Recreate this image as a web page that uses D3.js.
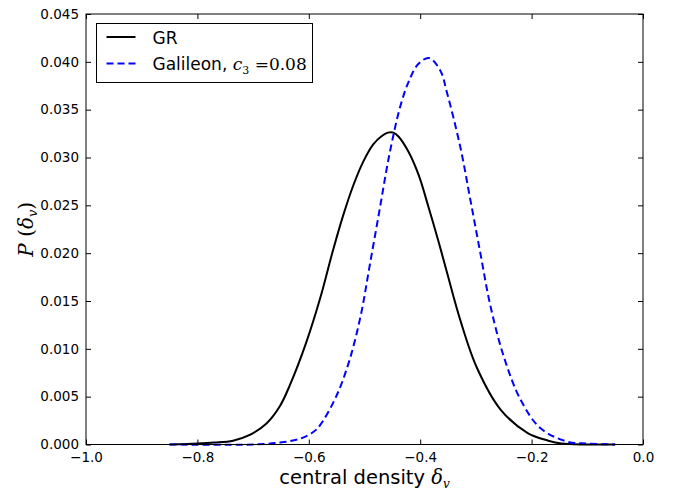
<!DOCTYPE html>
<html>
<head>
<meta charset="utf-8">
<script src="https://cdn.jsdelivr.net/npm/d3@7"></script>
<style>
  body { margin: 0; background: #fff; }
  svg { display: block; }
  .tick text { font-family: "DejaVu Sans", sans-serif; font-size: 13.5px; fill: #000; }
  .math { font-family: "DejaVu Serif", "Liberation Serif", serif; }
</style>
</head>
<body>
<div id="chart"></div>
<script>
// GR curve
var grX = [-0.85, -0.80, -0.77, -0.736, -0.706, -0.676, -0.652, -0.634, -0.605, -0.58, -0.557, -0.538, -0.52, -0.502,
           -0.484, -0.47, -0.458, -0.448, -0.439, -0.421, -0.403, -0.385, -0.367, -0.352, -0.328, -0.298, -0.255,
           -0.207, -0.17, -0.147, -0.10, -0.05];
var grY = [0.0000, 0.0001, 0.0002, 0.0004, 0.0010, 0.0022, 0.0040, 0.0062, 0.0106, 0.0152, 0.0202, 0.0240, 0.0271, 0.0296,
           0.0314, 0.0322, 0.0326, 0.0326, 0.0322, 0.0306, 0.0282, 0.0248, 0.0212, 0.0180, 0.0130, 0.0080, 0.0036,
           0.0012, 0.0004, 0.0001, 0.0000, 0.0000];

// Galileon c3 = 0.08
var galX = [-0.85, -0.70, -0.652, -0.616, -0.592, -0.58, -0.551, -0.527, -0.506, -0.491, -0.473, -0.455, -0.435, -0.418,
            -0.403, -0.384, -0.364, -0.352, -0.328, -0.31, -0.292, -0.274, -0.25, -0.22, -0.184, -0.136, -0.10, -0.05];
var galY = [0.0000, 0.0000, 0.0002, 0.0006, 0.0013, 0.0020, 0.0050, 0.0088, 0.0137, 0.0186, 0.0245, 0.0304, 0.0355, 0.0383,
            0.0398, 0.0404, 0.0391, 0.0368, 0.0311, 0.0256, 0.0200, 0.0145, 0.0092, 0.0047, 0.0017, 0.0003, 0.0001, 0.0000];

var xTicks = [-1.0, -0.8, -0.6, -0.4, -0.2, 0.0];
var yTicks = [0, 0.005, 0.010, 0.015, 0.020, 0.025, 0.030, 0.035, 0.040, 0.045];

var margin = {left: 86, right: 30, top: 14, bottom: 45.5};
var W = 673, H = 490;
var width = W - margin.left - margin.right;
var height = H - margin.top - margin.bottom;

var svg = d3.select("#chart").append("svg").attr("width", W).attr("height", H);
var g = svg.append("g").attr("transform", "translate(" + margin.left + "," + margin.top + ")");

var x = d3.scaleLinear().domain([-1, 0]).range([0, width]);
var y = d3.scaleLinear().domain([0, 0.045]).range([height, 0]);

var tickLen = 5;
// axes, ticks pointing inward
g.append("g").attr("class", "axis x").attr("transform", "translate(0," + height + ")")
  .call(d3.axisBottom(x).tickValues(xTicks).tickFormat(d3.format(".1f")).tickSizeInner(-tickLen).tickSizeOuter(0).tickPadding(8));
g.append("g").attr("class", "axis x2")
  .call(d3.axisTop(x).tickValues(xTicks).tickFormat("").tickSizeInner(-tickLen).tickSizeOuter(0));
g.append("g").attr("class", "axis y")
  .call(d3.axisLeft(y).tickValues(yTicks).tickFormat(d3.format(".3f")).tickSizeInner(-tickLen).tickSizeOuter(0).tickPadding(7));
g.append("g").attr("class", "axis y2").attr("transform", "translate(" + width + ",0)")
  .call(d3.axisRight(y).tickValues(yTicks).tickFormat("").tickSizeInner(-tickLen).tickSizeOuter(0));
g.selectAll(".axis .domain").remove();
g.selectAll(".tick line").attr("stroke", "#000");

var line = d3.line()
  .x(function(d){ return x(d[0]); })
  .y(function(d){ return y(d[1]); })
  .curve(d3.curveCatmullRom.alpha(0.5));

var grData = grX.map(function(v, i){ return [v, grY[i]]; });
var galData = galX.map(function(v, i){ return [v, galY[i]]; });

g.append("path").attr("d", line(grData))
  .attr("fill", "none").attr("stroke", "#000").attr("stroke-width", 2);
g.append("path").attr("d", line(galData))
  .attr("fill", "none").attr("stroke", "#0000ff").attr("stroke-width", 2).attr("stroke-dasharray", "7,4");

// frame
g.append("rect").attr("width", width).attr("height", height)
  .attr("fill", "none").attr("stroke", "#000").attr("stroke-width", 1);

// legend
var leg = svg.append("g").attr("transform", "translate(96.5,23.5)");
leg.append("rect").attr("width", 216).attr("height", 59).attr("fill", "#fff").attr("stroke", "#000").attr("stroke-width", 1);
leg.append("line").attr("x1", 10).attr("x2", 39).attr("y1", 13.5).attr("y2", 13.5).attr("stroke", "#000").attr("stroke-width", 2);
leg.append("line").attr("x1", 10).attr("x2", 39).attr("y1", 40).attr("y2", 40).attr("stroke", "#0000ff").attr("stroke-width", 2).attr("stroke-dasharray", "7,4");
leg.append("text").attr("x", 56).attr("y", 20).style("font-family", "DejaVu Sans, sans-serif").style("font-size", "17px").text("GR");
var t2 = leg.append("text").attr("x", 56).attr("y", 46.5).style("font-family", "DejaVu Sans, sans-serif").style("font-size", "17px");
t2.append("tspan").text("Galileon, ");
t2.append("tspan").attr("class", "math").style("font-style", "italic").style("font-size", "17px").text("c");
t2.append("tspan").attr("class", "math").style("font-size", "11px").attr("dy", 4).text("3");
t2.append("tspan").attr("class", "math").style("font-size", "17px").attr("dy", -4).text(" =0.08");

// axis labels
var xl = svg.append("text").attr("x", margin.left + width / 2).attr("y", 484)
  .attr("text-anchor", "middle").style("font-family", "DejaVu Sans, sans-serif").style("font-size", "19.5px");
xl.append("tspan").text("central density ");
xl.append("tspan").attr("class", "math").style("font-style", "italic").text("δ");
xl.append("tspan").attr("class", "math").style("font-style", "italic").style("font-size", "12px").attr("dy", 4).text("v");

var yl = svg.append("text").attr("transform", "translate(33," + (margin.top + height / 2) + ") rotate(-90)")
  .attr("text-anchor", "middle").attr("class", "math").style("font-size", "20px");
yl.append("tspan").style("font-style", "italic").text("P");
yl.append("tspan").text(" (");
yl.append("tspan").style("font-style", "italic").text("δ");
yl.append("tspan").style("font-style", "italic").style("font-size", "13px").attr("dy", 4).text("v");
yl.append("tspan").attr("dy", -4).text(")");
</script>
</body>
</html>
